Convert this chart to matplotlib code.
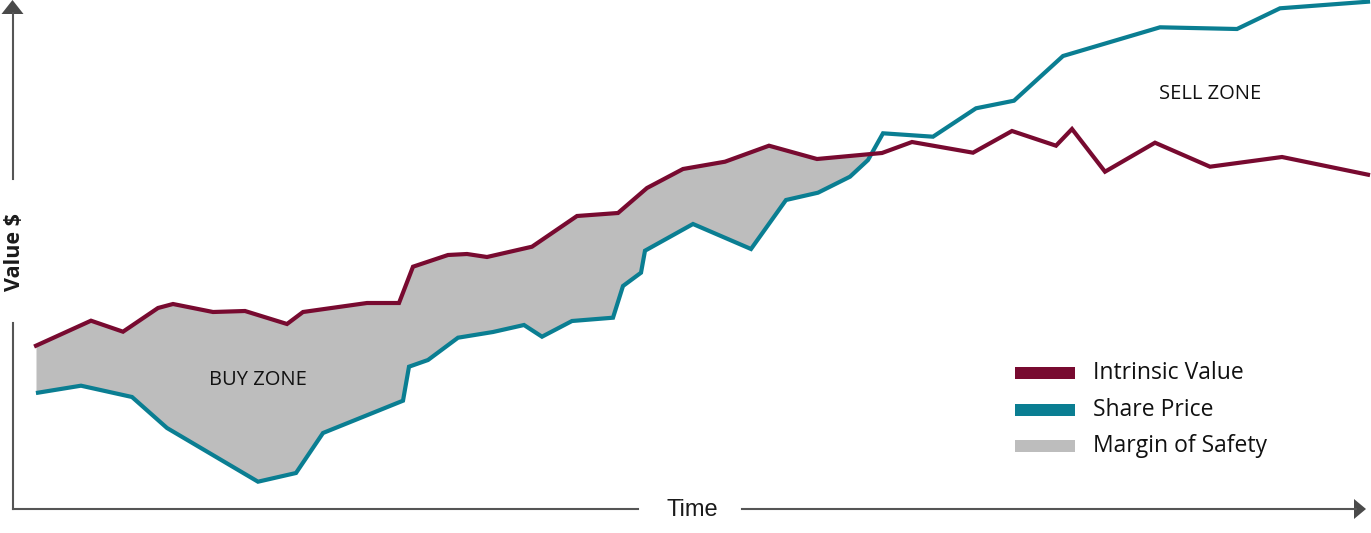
import numpy as np
import matplotlib
matplotlib.use("Agg")
import matplotlib.pyplot as plt
from matplotlib.patches import Polygon, Rectangle

# ---- data (time units ~ horizontal position, value units) ----
iv_time = [36, 91, 123, 158, 173, 213, 245, 287, 303, 367, 399, 413, 448, 467, 487,
           532, 577, 618, 647, 683, 725, 769, 817, 882, 912, 973, 1012, 1056, 1072,
           1105, 1155, 1210, 1282, 1368]
iv_value = [187.3, 212.3, 201.3, 225, 229, 221, 222, 209, 221, 230, 230, 266.3, 278,
            279, 276, 286.3, 317, 320, 345, 364, 371.3, 387.3, 374, 380, 391, 380.3,
            402, 387.3, 404, 361.3, 390.3, 366.3, 376, 358.3]

sp_time = [38, 81, 132, 167, 258, 296, 323, 403, 409, 428, 458, 493, 524, 542, 572,
           613, 623, 641, 645, 693, 751, 786, 818, 850, 868, 883, 933, 976, 1014,
           1063, 1160, 1237, 1280, 1368]
sp_value = [140.3, 147.3, 136, 105, 51.3, 60, 100, 132.3, 166.3, 173, 195.3, 201, 208,
            196.3, 212, 215.3, 247, 260.3, 282.3, 309, 284, 333, 340.3, 356.3, 373,
            399.7, 396.3, 424.7, 432.3, 477, 505.7, 504, 524.7, 531.3]

zone_labels = ["BUY ZONE", "SELL ZONE"]
legend_labels = ["Intrinsic Value", "Share Price", "Margin of Safety"]
x_label = "Time"
y_label = "Value $"

C_IV = "#780a30"
C_SP = "#0a7e92"
C_MS = "#bdbdbd"
C_AX = "#555555"

W, H = 1371, 533
fig = plt.figure(figsize=(W / 100, H / 100), dpi=100)
ax = fig.add_axes([0, 0, 1, 1])
ax.set_xlim(0, W)
ax.set_ylim(0, H)
ax.axis("off")

FONT = "Open Sans"

# margin of safety fill
grid = np.union1d(iv_time, sp_time)
iv_g = np.interp(grid, iv_time, iv_value)
sp_g = np.interp(grid, sp_time, sp_value)
ax.fill_between(grid, sp_g, iv_g, where=iv_g >= sp_g, interpolate=True,
                color=C_MS, lw=0, zorder=1)

ax.plot(sp_time, sp_value, color=C_SP, lw=3, solid_joinstyle="miter", zorder=3, clip_on=False)
ax.plot(iv_time, iv_value, color=C_IV, lw=3, solid_joinstyle="miter", zorder=4, clip_on=False)

# axes with arrows
ax_y = 24
ax_x = 12.5
ax.plot([ax_x, ax_x], [H - 13, H - 179], color=C_AX, lw=1.5, zorder=2)
ax.plot([ax_x, ax_x], [H - 323, ax_y], color=C_AX, lw=1.5, zorder=2)
ax.add_patch(Polygon([[ax_x, H], [ax_x - 11, H - 14], [ax_x + 11, H - 14]],
                     closed=True, color="#4a4a4a", lw=0, clip_on=False))
ax.plot([ax_x, 638], [ax_y, ax_y], color=C_AX, lw=1.5, zorder=2)
ax.plot([742, 1356], [ax_y, ax_y], color=C_AX, lw=1.5, zorder=2)
ax.add_patch(Polygon([[1366, ax_y], [1354, ax_y + 10], [1354, ax_y - 10]],
                     closed=True, color="#4a4a4a", lw=0, clip_on=False))

ax.text(692, ax_y - 1, x_label, ha="center", va="center", fontsize=17,
        family="Liberation Sans", color="#1a1a1a")
ax.text(15, H - 252, y_label, ha="center", va="center", rotation=90, fontsize=15.5,
        family=FONT, fontweight="bold", color="#1a1a1a")

ax.text(258, H - 380, zone_labels[0], ha="center", va="center", fontsize=14.5,
        family=FONT, color="#111111", zorder=5)
ax.text(1210, H - 94, zone_labels[1], ha="center", va="center", fontsize=14.5,
        family=FONT, color="#111111", zorder=5)

# legend
for i, (lab, col) in enumerate(zip(legend_labels, [C_IV, C_SP, C_MS])):
    yc = H - (373 + i * 36.5)
    ax.add_patch(Rectangle((1015, yc - 6), 60, 12, color=col, lw=0))
    ax.text(1093, yc, lab, ha="left", va="center", fontsize=16.5, family=FONT,
            color="#111111")

fig.savefig("out.png", dpi=100)
